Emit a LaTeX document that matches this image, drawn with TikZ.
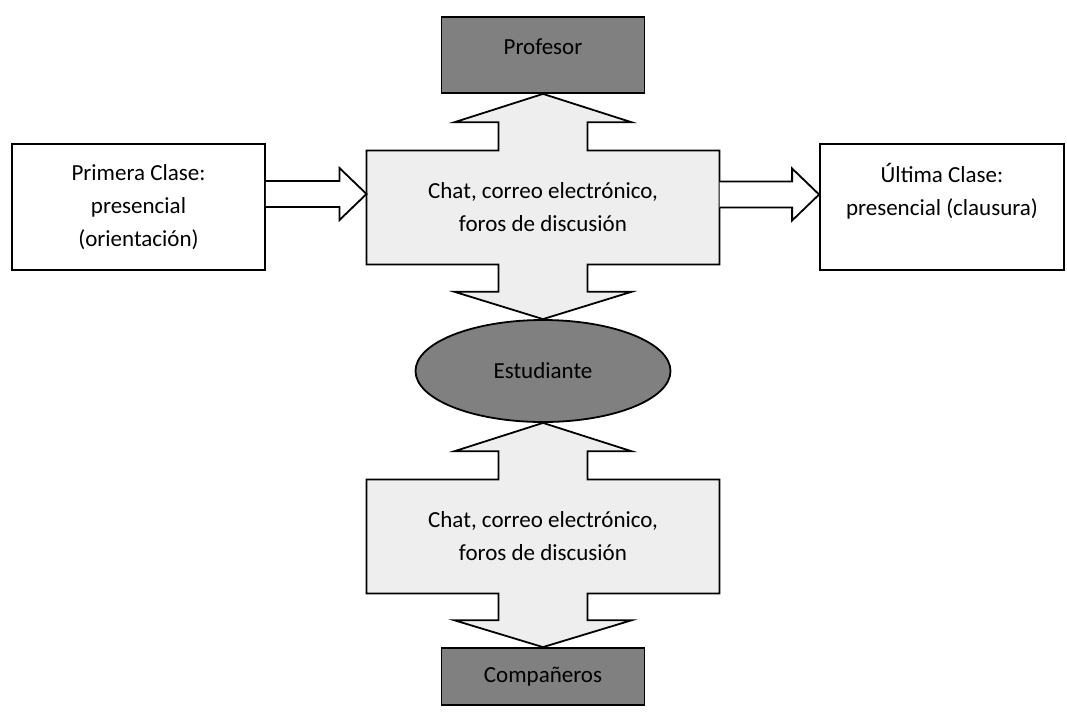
\documentclass[tikz,border=0pt]{standalone}
\usepackage{fontspec}
\setmainfont{Carlito}
\usetikzlibrary{positioning,calc,shapes.geometric,backgrounds}
\definecolor{gris}{HTML}{808080}
\definecolor{claro}{HTML}{EEEEEE}

\begin{document}
\begin{tikzpicture}[
  x=1pt,
  y=-1pt,
  font=\fontsize{23}{33}\selectfont,
  line width=1.8pt,
  caja/.style={draw, align=center, inner sep=4pt, fill=white},
  oscura/.style={draw, align=center, inner sep=2pt, fill=gris},
  medio/.style={align=center, minimum width=353, minimum height=114, inner sep=0pt, outer sep=0pt},
  bloque/.style={draw, line width=1.8pt, fill=claro, line join=miter},
  flecha/.style={draw, fill=white, line join=miter}
]
\useasboundingbox (0,0) rectangle (1067,724);

% Columna central
\node[oscura, minimum width=203, minimum height=76, text depth=16pt] (profesor) at (543,55) {Profesor};
\node[medio] (chatA) at (543,207.5) {Chat, correo electrónico,\\foros de discusión};
\node[oscura, ellipse, minimum width=255, minimum height=102] (estudiante) at (543,371) {Estudiante};
\node[medio] (chatB) at (543,536.5) {Chat, correo electrónico,\\foros de discusión};
\node[oscura, minimum width=203, minimum height=57] (companeros) at (543,676.5) {Compañeros};

% Clases presenciales
\node[caja, minimum width=253, minimum height=126] (primera) at (138.5,207) {Primera Clase:\\presencial\\(orientación)};
\node[caja, minimum width=244, minimum height=126, text depth=35pt] (ultima) at (942,207) {Última Clase:\\presencial (clausura)};

% Flechas dobles (fondo)
\coordinate (m1) at ($(chatA.north)!0.5!(profesor.south)$);
\coordinate (m2) at ($(chatA.south)!0.5!(estudiante.north)$);
\coordinate (m3) at ($(chatB.north)!0.5!(estudiante.south)$);
\coordinate (m4) at ($(chatB.south)!0.5!(companeros.north)$);
\begin{scope}[on background layer]
\draw[bloque] (chatA.north west) -- ($(chatA.north)+(-44.5,0)$) -- ($(m1)+(-44.5,0)$) -- ($(m1)+(-88.5,0)$)
  -- (profesor.south) -- ($(m1)+(88.5,0)$) -- ($(m1)+(44.5,0)$) -- ($(chatA.north)+(44.5,0)$)
  -- (chatA.north east) -- (chatA.south east) -- ($(chatA.south)+(44.5,0)$) -- ($(m2)+(44.5,0)$)
  -- ($(m2)+(88.5,0)$) -- (estudiante.north) -- ($(m2)+(-88.5,0)$) -- ($(m2)+(-44.5,0)$)
  -- ($(chatA.south)+(-44.5,0)$) -- (chatA.south west) -- cycle;
\draw[bloque] (chatB.north west) -- ($(chatB.north)+(-44.5,0)$) -- ($(m3)+(-44.5,0)$) -- ($(m3)+(-88.5,0)$)
  -- (estudiante.south) -- ($(m3)+(88.5,0)$) -- ($(m3)+(44.5,0)$) -- ($(chatB.north)+(44.5,0)$)
  -- (chatB.north east) -- (chatB.south east) -- ($(chatB.south)+(44.5,0)$) -- ($(m4)+(44.5,0)$)
  -- ($(m4)+(88.5,0)$) -- (companeros.north) -- ($(m4)+(-88.5,0)$) -- ($(m4)+(-44.5,0)$)
  -- ($(chatB.south)+(-44.5,0)$) -- (chatB.south west) -- cycle;
\end{scope}

% Flechas laterales
\coordinate (l1) at ($(primera.east)+(0,-13)$);
\coordinate (r1) at (chatA.west |- l1);
\draw[flecha] ($(l1)+(0,-13)$) -- ($(r1)+(-27,-13)$) -- ($(r1)+(-27,-26)$) -- (r1)
  -- ($(r1)+(-27,26)$) -- ($(r1)+(-27,13)$) -- ($(l1)+(0,13)$);
\coordinate (l2) at ($(chatA.east)+(0,-13)$);
\coordinate (r2) at (ultima.west |- l2);
\draw[flecha] ($(l2)+(0,-13)$) -- ($(r2)+(-27,-13)$) -- ($(r2)+(-27,-26)$) -- (r2)
  -- ($(r2)+(-27,26)$) -- ($(r2)+(-27,13)$) -- ($(l2)+(0,13)$);

\end{tikzpicture}
\end{document}
